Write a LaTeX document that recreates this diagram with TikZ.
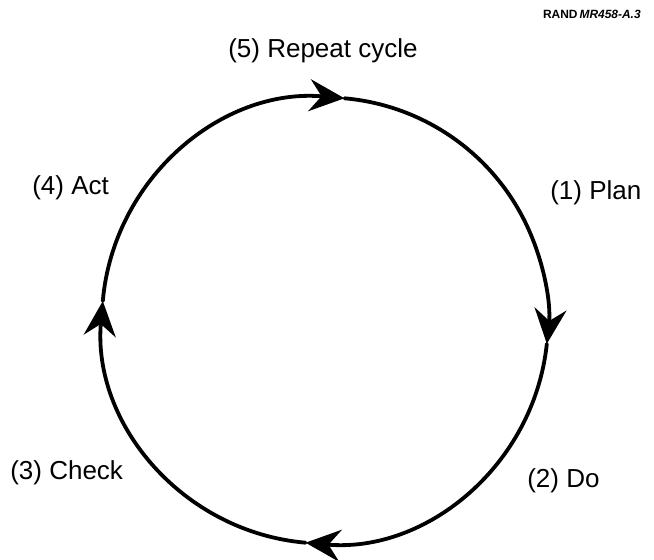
\documentclass[tikz,border=0pt]{standalone}
\usepackage{fontspec}
\setmainfont{Liberation Sans}
\usepackage{tikz}
\usetikzlibrary{arrows.meta}

\begin{document}
\begin{tikzpicture}[x=0.025cm,y=0.025cm,
  cyc/.style={line width=2.7pt,line cap=round,-{Stealth[length=0.875cm,width=0.8cm,inset=0.3cm]}},
  lbl/.style={inner sep=0pt,anchor=base west,font=\fontsize{18.5}{22}\selectfont}]
\useasboundingbox (0,0) rectangle (654,560);
\coordinate (c) at (325,239.5);
\coordinate (pT) at ([shift={(c)}]85:5.575cm);
\coordinate (pR) at ([shift={(c)}]-6:5.575cm);
\coordinate (pB) at ([shift={(c)}]265:5.575cm);
\coordinate (pL) at ([shift={(c)}]175:5.575cm);
\draw[cyc] (pL) arc[start angle=175,end angle=85,radius=5.575cm];
\draw[cyc] (pT) arc[start angle=85,end angle=-6,radius=5.575cm];
\draw[cyc] (pR) arc[start angle=-6,end angle=-95,radius=5.575cm];
\draw[cyc] (pB) arc[start angle=265,end angle=175,radius=5.575cm];
\node[lbl] (repeat) at (228,502) {(5) Repeat cycle};
\node[lbl] (plan) at (550,360) {(1) Plan};
\node[lbl] (act) at (32,365) {(4) Act};
\node[lbl] (check) at (10,80) {(3) Check};
\node[lbl] (do) at (527,72) {(2) Do};
\node[inner sep=0pt,anchor=base east,font=\fontsize{8.5}{10}\selectfont\bfseries] (rand) at (641,541) {RAND\,\textit{MR458-A.3}};
\end{tikzpicture}
\end{document}
